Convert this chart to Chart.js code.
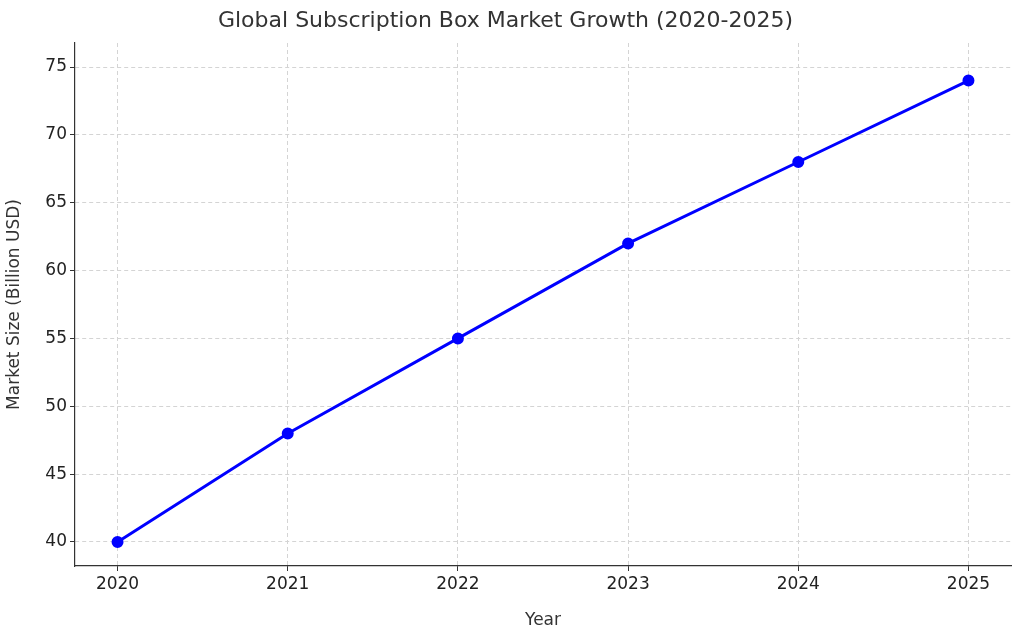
<!DOCTYPE html>
<html><head><meta charset="utf-8">
<script src="https://cdn.jsdelivr.net/npm/chart.js@4"></script>
<style>html,body{margin:0;padding:0;background:#fff}#w{width:1024px;height:635px}</style>
</head><body><div id="w"><canvas id="c"></canvas></div>
<script>
const years = [2020, 2021, 2022, 2023, 2024, 2025];
const marketSize = [40, 48, 55, 62, 68, 74];
const yTicks = [40, 45, 50, 55, 60, 65, 70, 75];
const titleText = 'Global Subscription Box Market Growth (2020-2025)';
const font = 'DejaVu Sans';
new Chart(document.getElementById('c'), {
  type: 'line',
  data: { datasets: [{
    data: years.map((y, i) => ({x: y, y: marketSize[i]})),
    borderColor: '#0000ff', backgroundColor: '#0000ff',
    borderWidth: 3, pointRadius: 4.5, pointHoverRadius: 4.5, tension: 0
  }]},
  options: {
    responsive: true, maintainAspectRatio: false, animation: false,
    layout: { padding: { left: 0, right: 13, top: 0, bottom: 0 } },
    plugins: {
      legend: { display: false }, tooltip: { enabled: false },
      title: { display: true, text: titleText, color: '#333',
        font: { family: font, size: 22, weight: 'normal' }, padding: { top: 8, bottom: 8.6 } }
    },
    scales: {
      x: { type: 'linear', min: 2019.75, max: 2025.25,
        afterBuildTicks: s => { s.ticks = years.map(v => ({value: v})); },
        afterFit: s => { s.height = 69; },
        ticks: { color: '#222', font: { family: font, size: 17 }, callback: v => String(v), padding: 3 },
        grid: { color: '#d4d4d4', tickColor: '#333', tickLength: 5 },
        border: { color: '#333', width: 1.2, dash: [4, 3] },
        title: { display: true, text: 'Year', color: '#333', font: { family: font, size: 17 }, padding: { top: 0 } }
      },
      y: { min: 38.23, max: 76.77,
        afterBuildTicks: s => { s.ticks = yTicks.map(v => ({value: v})); },
        afterFit: s => { s.width = 75; },
        ticks: { color: '#222', font: { family: font, size: 17 }, padding: 3 },
        grid: { color: '#d4d4d4', tickColor: '#333', tickLength: 5 },
        border: { color: '#333', width: 1.2, dash: [4, 3] },
        title: { display: true, text: 'Market Size (Billion USD)', color: '#333', font: { family: font, size: 17 }, padding: { bottom: 2 } }
      }
    }
  }
});
</script></body></html>
